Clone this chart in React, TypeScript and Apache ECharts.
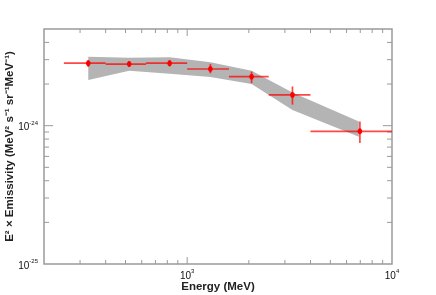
import React, { useEffect, useRef } from "react";
import * as echarts from "echarts";

// Energy bins (MeV): centre, low edge, high edge
const energy = [329, 521, 821, 1298, 2063, 3266, 6970];
const energyLo = [250, 400, 630, 1000, 1600, 2500, 4000];
const energyHi = [400, 630, 1000, 1600, 2500, 4000, 10000];
// E^2 x emissivity, in units of 1e-24 MeV^2 s^-1 sr^-1 MeV^-1
const emis = [2.83, 2.79, 2.83, 2.57, 2.26, 1.67, 0.91];
const emisLo = [2.66, 2.66, 2.68, 2.39, 2.03, 1.42, 0.75];
const emisHi = [2.98, 2.92, 2.98, 2.79, 2.46, 1.92, 1.07];
// systematic band
const bandX = [329, 521, 821, 1298, 2063, 3266, 6890];
const bandUpper = [3.15, 3.1, 3.12, 2.87, 2.5, 1.74, 1.07];
const bandLower = [2.14, 2.5, 2.37, 2.25, 2.0, 1.3, 0.83];
// tick values
const xTicks = [300, 400, 500, 600, 700, 800, 900, 1000, 2000, 3000, 4000, 5000, 6000, 7000, 8000, 9000];
const yTicks = [0.2, 0.3, 0.4, 0.5, 0.6, 0.7, 0.8, 0.9, 1, 2, 3, 4];

const XMIN = 200;
const XMAX = 10000;
const YMIN = 0.1;
const YMAX = 5;
const FRAME = "#9a9a9a";
const FONT = "Liberation Sans, Arial, sans-serif";

const isPow10 = (v: number) => {
  const l = Math.log10(v);
  return Math.abs(l - Math.round(l)) < 1e-6;
};

export default function App() {
  const ref = useRef<HTMLDivElement>(null);
  useEffect(() => {
    if (!ref.current) return;
    const chart = echarts.init(ref.current, undefined, { renderer: "svg" });
    const rich = {
      b: { fontSize: 10, fontFamily: FONT, color: "#111", lineHeight: 12, verticalAlign: "bottom" },
      s: { fontSize: 6, fontFamily: FONT, color: "#111", lineHeight: 7, verticalAlign: "top" },
    };
    chart.setOption({
      animation: false,
      grid: {
        left: 44, right: 44, top: 29, bottom: 31,
        outerBoundsMode: "none", containLabel: false,
        show: true, borderColor: FRAME, borderWidth: 1.5, backgroundColor: "transparent",
      },
      xAxis: {
        type: "log",
        logBase: 10,
        min: XMIN,
        max: XMAX,
        name: "Energy (MeV)",
        nameLocation: "middle",
        nameGap: 16,
        nameMoveOverlap: false,
        nameTextStyle: { fontSize: 11.5, fontWeight: "bold", fontFamily: FONT, color: "#222" },
        axisLine: { show: false },
        axisTick: { show: false },
        splitLine: { show: false },
        axisLabel: {
          margin: 4,
          formatter: (v: number) => (isPow10(v) ? `{b|10}{s|${Math.round(Math.log10(v))}}` : ""),
          rich,
        },
      },
      yAxis: {
        type: "log",
        logBase: 10,
        min: YMIN,
        max: YMAX,
        name: "E² × Emissivity (MeV² s⁻¹ sr⁻¹MeV⁻¹)",
        nameLocation: "middle",
        nameGap: 29,
        nameRotate: 90,
        nameMoveOverlap: false,
        nameTextStyle: { fontSize: 11.5, fontWeight: "bold", fontFamily: FONT, color: "#222" },
        axisLine: { show: false },
        axisTick: { show: false },
        splitLine: { show: false },
        axisLabel: {
          margin: 6,
          formatter: (v: number) => (isPow10(v) ? `{b|10}{s|${Math.round(Math.log10(v)) - 24}}` : ""),
          rich,
        },
      },
      series: [
        {
          type: "custom",
          name: "band",
          silent: true,
          data: bandX.map((x, i) => [x, bandLower[i], bandUpper[i]]),
          renderItem: (params: any, api: any) => {
            if (params.dataIndex !== 0) return null;
            const up = bandX.map((x, i) => api.coord([x, bandUpper[i]]));
            const lo = bandX.map((x, i) => api.coord([x, bandLower[i]])).reverse();
            return {
              type: "polygon",
              shape: { points: up.concat(lo) },
              style: { fill: "#b4b4b4", stroke: "none" },
            };
          },
          z: 1,
        },
        {
          type: "custom",
          name: "xticks",
          silent: true,
          data: xTicks.map((v) => [v, YMIN]),
          renderItem: (params: any, api: any) => {
            const cs = params.coordSys;
            const px = api.coord([api.value(0), YMIN])[0];
            const len = isPow10(api.value(0)) ? 7 : 4;
            const st = { stroke: FRAME, lineWidth: 1 };
            return {
              type: "group",
              children: [
                { type: "line", shape: { x1: px, y1: cs.y + cs.height, x2: px, y2: cs.y + cs.height - len }, style: st },
                { type: "line", shape: { x1: px, y1: cs.y, x2: px, y2: cs.y + len }, style: st },
              ],
            };
          },
          z: 2,
        },
        {
          type: "custom",
          name: "yticks",
          silent: true,
          data: yTicks.map((v) => [XMIN, v]),
          renderItem: (params: any, api: any) => {
            const cs = params.coordSys;
            const py = api.coord([XMIN, api.value(1)])[1];
            const len = isPow10(api.value(1)) ? 9 : 5;
            const st = { stroke: FRAME, lineWidth: 1 };
            return {
              type: "group",
              children: [
                { type: "line", shape: { x1: cs.x, y1: py, x2: cs.x + len, y2: py }, style: st },
                { type: "line", shape: { x1: cs.x + cs.width, y1: py, x2: cs.x + cs.width - len, y2: py }, style: st },
              ],
            };
          },
          z: 2,
        },
        {
          type: "custom",
          name: "data",
          silent: true,
          data: energy.map((x, i) => [x, emis[i], energyLo[i], energyHi[i], emisLo[i], emisHi[i]]),
          renderItem: (params: any, api: any) => {
            const c = api.coord([api.value(0), api.value(1)]);
            const xl = api.coord([api.value(2), api.value(1)])[0];
            const xh = api.coord([api.value(3), api.value(1)])[0];
            const yl = api.coord([api.value(0), api.value(4)])[1];
            const yh = api.coord([api.value(0), api.value(5)])[1];
            const st = { stroke: "rgba(255,0,0,0.72)", lineWidth: 1.7 };
            return {
              type: "group",
              children: [
                { type: "line", shape: { x1: xl, y1: c[1], x2: xh, y2: c[1] }, style: st },
                { type: "line", shape: { x1: c[0], y1: yl, x2: c[0], y2: yh }, style: st },
                { type: "ellipse", shape: { cx: c[0], cy: c[1], rx: 2.3, ry: 3 }, style: { fill: "#ff0000" } },
              ],
            };
          },
          z: 3,
        },
      ],
    });
    return () => chart.dispose();
  }, []);
  return <div ref={ref} style={{ position: "fixed", left: 0, top: 0, width: 436, height: 295 }} />;
}
